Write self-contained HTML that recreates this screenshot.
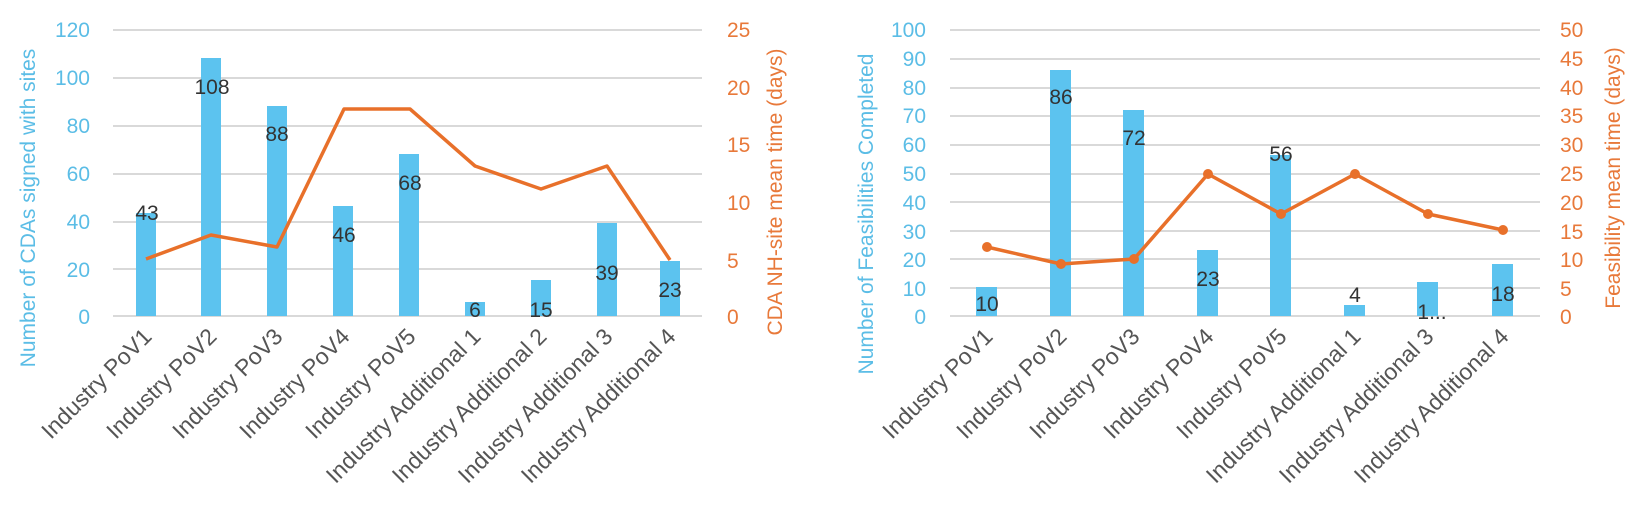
<!DOCTYPE html>
<html><head><meta charset="utf-8"><style>
html,body{margin:0;padding:0;background:#fff;}
svg{display:block;font-family:"Liberation Sans",sans-serif;}
</style></head><body>
<svg width="1645" height="524" viewBox="0 0 1645 524" xmlns="http://www.w3.org/2000/svg">
<rect width="1645" height="524" fill="#fff"/>
<!-- LEFT CHART -->
<g stroke="#d9d9d9" stroke-width="2">
<line x1="113" x2="702" y1="30" y2="30"/><line x1="113" x2="702" y1="78" y2="78"/>
<line x1="113" x2="702" y1="126" y2="126"/><line x1="113" x2="702" y1="174" y2="174"/>
<line x1="113" x2="702" y1="222" y2="222"/><line x1="113" x2="702" y1="269" y2="269"/>
<line x1="113" x2="702" y1="316" y2="316"/>
</g>
<g font-size="21" fill="#5bbde6" text-anchor="end">
<text x="90" y="37">120</text><text x="90" y="85">100</text><text x="90" y="133">80</text>
<text x="90" y="181">60</text><text x="90" y="229">40</text><text x="90" y="277">20</text><text x="90" y="324">0</text>
</g>
<g font-size="21" fill="#e8793a">
<text x="727" y="37">25</text><text x="727" y="95">20</text><text x="727" y="152">15</text>
<text x="727" y="210">10</text><text x="727" y="268">5</text><text x="727" y="324">0</text>
</g>
<text transform="translate(35,208) rotate(-90)" font-size="21" fill="#5bbde6" text-anchor="middle">Number of CDAs signed with sites</text>
<text transform="translate(782,192) rotate(-90)" font-size="21" fill="#e8793a" text-anchor="middle">CDA NH-site mean time (days)</text>
<g fill="#5cc3ef">
<rect x="136" y="213" width="20" height="103"/>
<rect x="201" y="58" width="20" height="258"/>
<rect x="267" y="106" width="20" height="210"/>
<rect x="333" y="206" width="20" height="110"/>
<rect x="399" y="154" width="20" height="162"/>
<rect x="465" y="302" width="20" height="14"/>
<rect x="531" y="280" width="20" height="36"/>
<rect x="597" y="223" width="20" height="93"/>
<rect x="660" y="261" width="20" height="55"/>
</g>
<polyline fill="none" stroke="#e8702a" stroke-width="3.5" stroke-linejoin="round" points="146,259 211,235 277,247 344,109 410,109 475,166 541,189 607,166 670,260"/>
<g font-size="21" fill="#333" text-anchor="middle">
<text x="147" y="220">43</text><text x="212" y="94">108</text><text x="277" y="141">88</text>
<text x="344" y="242">46</text><text x="410" y="190">68</text><text x="475" y="317">6</text>
<text x="541" y="317">15</text><text x="607" y="280">39</text><text x="670" y="297">23</text>
</g>
<g font-size="23" fill="#555" text-anchor="end">
<text transform="translate(153,338) rotate(-45)">Industry PoV1</text>
<text transform="translate(218,338) rotate(-45)">Industry PoV2</text>
<text transform="translate(284,338) rotate(-45)">Industry PoV3</text>
<text transform="translate(351,338) rotate(-45)">Industry PoV4</text>
<text transform="translate(417,338) rotate(-45)">Industry PoV5</text>
<text transform="translate(482,338) rotate(-45)">Industry Additional 1</text>
<text transform="translate(548,338) rotate(-45)">Industry Additional 2</text>
<text transform="translate(614,338) rotate(-45)">Industry Additional 3</text>
<text transform="translate(677,338) rotate(-45)">Industry Additional 4</text>
</g>
<!-- RIGHT CHART -->
<g stroke="#d9d9d9" stroke-width="2">
<line x1="950" x2="1540" y1="30" y2="30"/><line x1="950" x2="1540" y1="59" y2="59"/>
<line x1="950" x2="1540" y1="88" y2="88"/><line x1="950" x2="1540" y1="116" y2="116"/>
<line x1="950" x2="1540" y1="145" y2="145"/><line x1="950" x2="1540" y1="174" y2="174"/>
<line x1="950" x2="1540" y1="202" y2="202"/><line x1="950" x2="1540" y1="231" y2="231"/>
<line x1="950" x2="1540" y1="259" y2="259"/><line x1="950" x2="1540" y1="288" y2="288"/>
<line x1="950" x2="1540" y1="316" y2="316"/>
</g>
<g font-size="21" fill="#5bbde6" text-anchor="end">
<text x="926" y="37">100</text><text x="926" y="66">90</text><text x="926" y="95">80</text>
<text x="926" y="123">70</text><text x="926" y="152">60</text><text x="926" y="181">50</text>
<text x="926" y="210">40</text><text x="926" y="239">30</text><text x="926" y="267">20</text>
<text x="926" y="296">10</text><text x="926" y="324">0</text>
</g>
<g font-size="21" fill="#e8793a">
<text x="1560" y="37">50</text><text x="1560" y="66">45</text><text x="1560" y="95">40</text>
<text x="1560" y="123">35</text><text x="1560" y="152">30</text><text x="1560" y="181">25</text>
<text x="1560" y="210">20</text><text x="1560" y="239">15</text><text x="1560" y="267">10</text>
<text x="1560" y="296">5</text><text x="1560" y="324">0</text>
</g>
<text transform="translate(873,214) rotate(-90)" font-size="21" fill="#5bbde6" text-anchor="middle">Number of Feasibilities Completed</text>
<text transform="translate(1620,178) rotate(-90)" font-size="21" fill="#e8793a" text-anchor="middle">Feasibility mean time (days)</text>
<g fill="#5cc3ef">
<rect x="976" y="287" width="21" height="29"/>
<rect x="1050" y="70" width="21" height="246"/>
<rect x="1123" y="110" width="21" height="206"/>
<rect x="1197" y="250" width="21" height="66"/>
<rect x="1270" y="155" width="21" height="161"/>
<rect x="1344" y="305" width="21" height="11"/>
<rect x="1417" y="282" width="21" height="34"/>
<rect x="1492" y="264" width="21" height="52"/>
</g>
<polyline fill="none" stroke="#e8702a" stroke-width="3.5" stroke-linejoin="round" points="987,247 1061,264 1134,259 1208,174 1281,214 1355,174 1428,214 1503,230"/>
<g fill="#e8702a">
<circle cx="987" cy="247" r="5"/><circle cx="1061" cy="264" r="5"/><circle cx="1134" cy="259" r="5"/>
<circle cx="1208" cy="174" r="5"/><circle cx="1281" cy="214" r="5"/><circle cx="1355" cy="174" r="5"/>
<circle cx="1428" cy="214" r="5"/><circle cx="1503" cy="230" r="5"/>
</g>
<g font-size="21" fill="#333" text-anchor="middle">
<text x="987" y="311">10</text><text x="1061" y="104">86</text><text x="1134" y="145">72</text>
<text x="1208" y="286">23</text><text x="1281" y="161">56</text><text x="1355" y="302">4</text>
<text x="1432" y="319">1...</text><text x="1503" y="301">18</text>
</g>
<g font-size="23" fill="#555" text-anchor="end">
<text transform="translate(994,338) rotate(-45)">Industry PoV1</text>
<text transform="translate(1068,338) rotate(-45)">Industry PoV2</text>
<text transform="translate(1141,338) rotate(-45)">Industry PoV3</text>
<text transform="translate(1215,338) rotate(-45)">Industry PoV4</text>
<text transform="translate(1288,338) rotate(-45)">Industry PoV5</text>
<text transform="translate(1362,338) rotate(-45)">Industry Additional 1</text>
<text transform="translate(1435,338) rotate(-45)">Industry Additional 3</text>
<text transform="translate(1510,338) rotate(-45)">Industry Additional 4</text>
</g>
</svg>
</body></html>
